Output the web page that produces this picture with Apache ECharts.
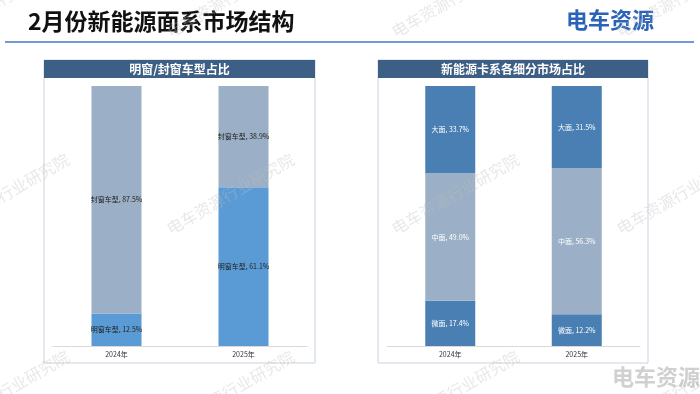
<!DOCTYPE html>
<html><head><meta charset="utf-8">
<script src="https://cdn.jsdelivr.net/npm/echarts@6/dist/echarts.min.js"></script>
<style>html,body{margin:0;padding:0;background:#fff}#c{width:700px;height:394px}</style>
</head><body><div id="c"></div>
<script>
const years = ['2024年', '2025年'];
const openWin = [12.5, 61.1];    // 明窗车型
const closedWin = [87.5, 38.9];  // 封窗车型
const micro = [17.4, 12.2];      // 微面
const mid = [49.0, 56.3];        // 中面
const large = [33.7, 31.5];      // 大面

const chart = echarts.init(document.getElementById('c'));
const font = '"Microsoft YaHei","Noto Sans CJK SC",sans-serif';
function lbl(name, color) {
  return {show: true, position: 'inside', fontSize: 7, color: color, fontFamily: font,
    formatter: p => name + ', ' + p.value.toFixed(1) + '%'};
}
const wm = [];
[-53, 172, 397, 622].forEach(x => [40, 237, 434].forEach(y => wm.push({
  type:'text', x:x, y:y, rotation: Math.PI/6, z: 100,
  style:{text:'电车资源行业研究院', fill:'rgba(190,190,190,0.35)', font:'16px ' + font,
    align:'left', verticalAlign:'bottom'}})));

chart.setOption({
  animation: false,
  graphic: [
    {type:'text', left: 28, top: 10, style:{text:'2月份新能源面系市场结构', fill:'#111', font:'bold 23px ' + font}},
    {type:'rect', shape:{x:5, y:41, width:689, height:2}, style:{fill:'#6f9bd6'}},
    {type:'text', left: 566, top: 9, style:{text:'电车资源', fill:'#2a63b8', font:'bold 22px ' + font}},
    {type:'rect', shape:{x:44, y:60, width:271, height:303}, style:{fill:'none', stroke:'#c9d3df', lineWidth:1}},
    {type:'rect', shape:{x:44, y:60, width:271, height:18}, style:{fill:'#3e5f85'}},
    {type:'text', x:179.5, y:69, style:{text:'明窗/封窗车型占比', fill:'#fff', font:'bold 12px ' + font, align:'center', verticalAlign:'middle'}},
    {type:'rect', shape:{x:378, y:60, width:270, height:303}, style:{fill:'none', stroke:'#c9d3df', lineWidth:1}},
    {type:'rect', shape:{x:378, y:60, width:270, height:18}, style:{fill:'#3e5f85'}},
    {type:'text', x:513, y:69, style:{text:'新能源卡系各细分市场占比', fill:'#fff', font:'bold 12px ' + font, align:'center', verticalAlign:'middle'}},
    {type:'text', left: 612, top: 366, z: 100, style:{text:'电车资源', fill:'rgba(150,150,150,0.45)', font:'bold 22px ' + font}}
  ].concat(wm),
  grid: [
    {left: 53, right: 393, top: 86, bottom: 48},
    {left: 387, right: 60, top: 86, bottom: 48}
  ],
  xAxis: [0,1].map(i => ({type:'category', gridIndex:i, data: years,
    axisLine:{lineStyle:{color:'#d9d9d9'}}, axisTick:{show:false},
    axisLabel:{fontSize:7, color:'#333', margin:5, fontFamily: font}})),
  yAxis: [0,1].map(i => ({type:'value', gridIndex:i, min:0, max:100, show:false})),
  series: [
    {type:'bar', name:'明窗车型', stack:'a', xAxisIndex:0, yAxisIndex:0, barWidth:50, data: openWin,
      itemStyle:{color:'#5b9bd5'}, label: lbl('明窗车型', '#222')},
    {type:'bar', name:'封窗车型', stack:'a', xAxisIndex:0, yAxisIndex:0, barWidth:50, data: closedWin,
      itemStyle:{color:'#9bb0c6'}, label: lbl('封窗车型', '#222')},
    {type:'bar', name:'微面', stack:'b', xAxisIndex:1, yAxisIndex:1, barWidth:50, data: micro,
      itemStyle:{color:'#4a7fb3'}, label: lbl('微面', '#fff')},
    {type:'bar', name:'中面', stack:'b', xAxisIndex:1, yAxisIndex:1, barWidth:50, data: mid,
      itemStyle:{color:'#9bb0c6'}, label: lbl('中面', '#fff')},
    {type:'bar', name:'大面', stack:'b', xAxisIndex:1, yAxisIndex:1, barWidth:50, data: large,
      itemStyle:{color:'#4a7fb3'}, label: lbl('大面', '#fff')}
  ]
});
</script></body></html>
